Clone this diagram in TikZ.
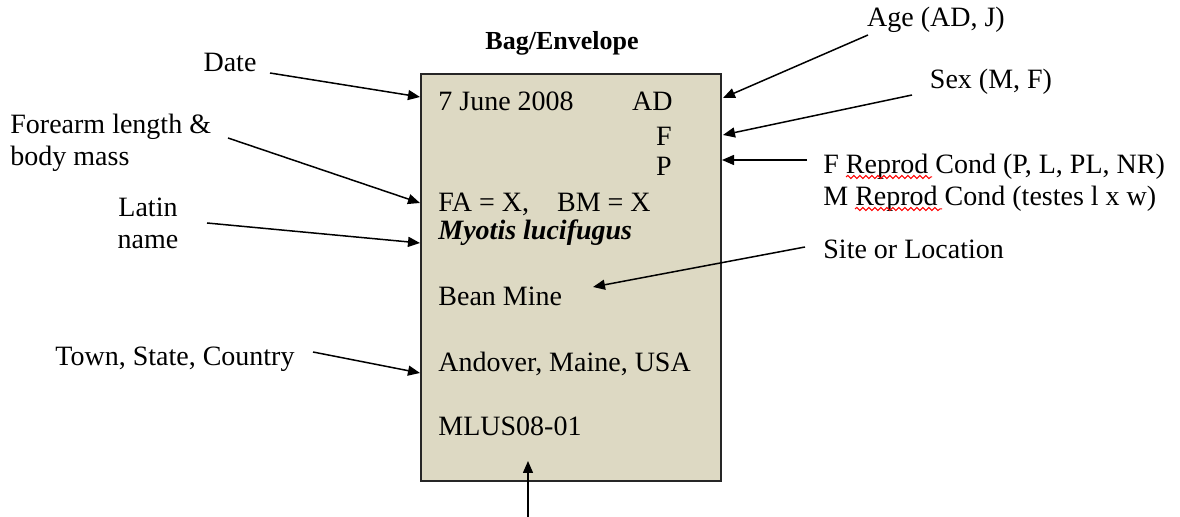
\documentclass[tikz,border=0pt]{standalone}
\usepackage{fontspec}
\setmainfont{Liberation Serif}
\usetikzlibrary{arrows.meta,decorations.pathmorphing}
\definecolor{tanbg}{HTML}{DDD9C3}
\tikzset{
  lbl/.style={inner sep=0pt,font=\fontsize{14}{16}\selectfont},
  arr/.style={line width=0.75pt,-{Triangle[length=6pt,width=5pt]}},
  squig/.style={red,line width=0.5pt,decorate,decoration={snake,amplitude=0.8pt,segment length=3pt}}
}
\begin{document}
\begin{tikzpicture}[x=0.5pt,y=-0.5pt]
\useasboundingbox (0,0) rectangle (1180,517);
% box
\node[draw=black!85,line width=1pt,fill=tanbg,minimum width=150pt,minimum height=203.5pt,inner sep=0pt] (box) at (571,277.5) {};
\node[inner sep=0pt,font=\fontsize{13}{15}\selectfont\bfseries,anchor=base] (title) at (562,50) {Bag/Envelope};
% box contents
\node[lbl,anchor=base west] (date) at (438,111) {7 June 2008};
\node[lbl,anchor=base east] (age) at (673,111) {AD};
\node[lbl,anchor=base east] (sex) at (672,146) {F};
\node[lbl,anchor=base east] (repro) at (672,176) {P};
\node[lbl,anchor=base west] (fabm) at (438,212) {FA = X,\hspace{14pt}BM = X};
\node[lbl,anchor=base west,font=\fontsize{14}{16}\selectfont\bfseries\itshape] (latin) at (438,240) {Myotis lucifugus};
\node[lbl,anchor=base west] (site) at (438,306) {Bean Mine};
\node[lbl,anchor=base west] (town) at (438,372) {Andover, Maine, USA};
\node[lbl,anchor=base west] (code) at (438,436) {MLUS08-01};
% outside labels
\node[lbl,anchor=base] (lDate) at (230,72) {Date};
\node[lbl,anchor=base west,align=left] (lFore) at (10,166) {Forearm length \&\\body mass};
\node[lbl,anchor=base,align=center] (lLatin) at (148,249) {Latin\\name};
\node[lbl,anchor=base west] (lTown) at (55,366) {Town, State, Country};
\node[lbl,anchor=base] (lAge) at (936,27) {Age (AD, J)};
\node[lbl,anchor=base] (lSex) at (991,89) {Sex (M, F)};
\node[lbl,anchor=base west,align=left] (lRepro) at (823,206) {F Reprod Cond (P, L, PL, NR)\\M Reprod Cond (testes l x w)};
\node[lbl,anchor=base west] (lSite) at (823,259) {Site or Location};
% squiggles
\draw[squig] (846,177) -- (932,177);
\draw[squig] (855,209) -- (942,209);
% arrow coordinates
\coordinate (a1) at (270,73);  \coordinate (b1) at (420,97);
\coordinate (a2) at (228,138); \coordinate (b2) at (420,203);
\coordinate (a3) at (207,223); \coordinate (b3) at (420,243);
\coordinate (a4) at (313,352); \coordinate (b4) at (420,373);
\coordinate (a5) at (868,35);  \coordinate (b5) at (723,98);
\coordinate (a6) at (912,95);  \coordinate (b6) at (723,135);
\coordinate (a7) at (807,160); \coordinate (b7) at (722,160);
\coordinate (a8) at (805,247); \coordinate (b8) at (593,287);
\coordinate (a9) at (528,517); \coordinate (b9) at (528,461);
\foreach \i in {1,...,9} {\draw[arr] (a\i) -- (b\i);}
\end{tikzpicture}
\end{document}
